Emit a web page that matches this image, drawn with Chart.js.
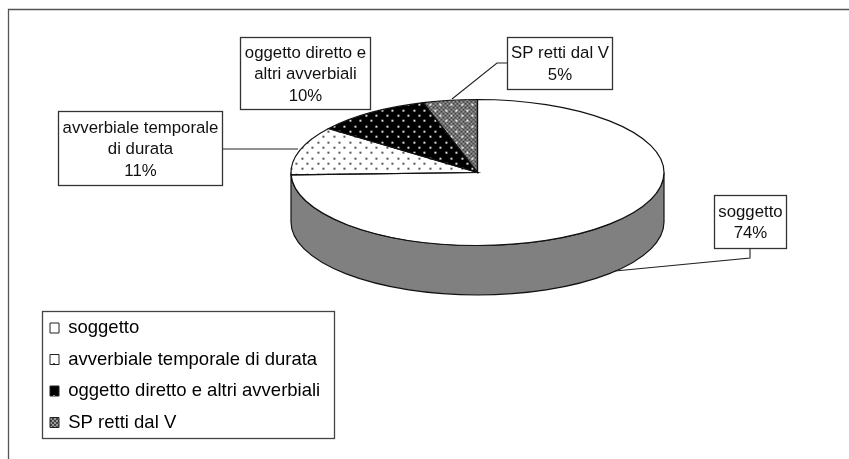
<!DOCTYPE html>
<html>
<head>
<meta charset="utf-8">
<style>
  html, body { margin: 0; padding: 0; background: #fff; }
  canvas { display: block; }
</style>
<script src="https://cdn.jsdelivr.net/npm/chart.js@4"></script>
</head>
<body>
<canvas id="pieChart" width="849" height="459"></canvas>
<script>
const categories = ['soggetto', 'avverbiale temporale di durata', 'oggetto diretto e altri avverbiali', 'SP retti dal V'];
const shares = [74.49, 10.8, 10, 4.71];
const calloutNames = [['soggetto'], ['avverbiale temporale', 'di durata'], ['oggetto diretto e', 'altri avverbiali'], ['SP retti dal V']];

// where the flattened pie sits
const pieX = 477.5, pieY = 172.5, pieRx = 186.5, pieRy = 73, pieDepth = 49.5;
const squash = pieRy / pieRx;
const fontName = '"Liberation Sans", Arial, sans-serif';

// label boxes, same order as categories
const calloutBoxes = [
    { x: 714.5, y: 195.5, w: 72, h: 53, leader: [[750, 248], [750, 258], [615, 271]] },
    { x: 58.5, y: 111.5, w: 164, h: 74, leader: [[222, 149], [298, 149]] },
    { x: 240.5, y: 37.5, w: 130, h: 72, leader: [] },
    { x: 507.5, y: 37.5, w: 105, h: 52, leader: [[507, 63], [497, 63], [452, 99]] }
];

function makeTile(base, dotColor, checker) {
    const tile = document.createElement('canvas');
    tile.width = 32;
    tile.height = 32;
    const c = tile.getContext('2d');
    c.fillStyle = base;
    c.fillRect(0, 0, 32, 32);
    if (checker) {
        c.fillStyle = checker;
        for (let y = 0; y < 32; y += 2) {
            for (let x = (y % 4 === 0 ? 0 : 2); x < 32; x += 4) {
                c.fillRect(x, y, 2, 2);
            }
        }
    }
    c.fillStyle = dotColor;
    for (let row = 0; row < 6; row++) {
        const y = Math.round(row * 16 / 3);
        for (let col = 0; col < 3; col++) {
            const x = Math.round((col + (row % 2) / 2) * 32 / 3);
            c.fillRect(x, y, 2, 2);
        }
    }
    return tile;
}

const ctx = document.getElementById('pieChart').getContext('2d');
const tiles = [null, makeTile('#fff', '#555'), makeTile('#000', '#ddd'), makeTile('#444', '#eee', '#999')];

function flatFill(tile) {
    // the arcs get painted under a squashed transform, undo it for the pattern
    if (!tile) return '#fff';
    const p = ctx.createPattern(tile, 'repeat');
    p.setTransform(new DOMMatrix().scale(1, 1 / squash));
    return p;
}
function legendFill(tile) {
    return tile ? ctx.createPattern(tile, 'repeat') : '#fff';
}

const pie3d = {
    id: 'pie3d',
    afterLayout(chart) {
        const legend = chart.legend;
        const w = legend.width, h = legend.height;
        legend.left = 37;
        legend.top = 305.75;
        legend.right = legend.left + w;
        legend.bottom = legend.top + h;
    },
    beforeDatasetsDraw(chart) {
        const c = chart.ctx;
        const arc = chart.getDatasetMeta(0).data[0];
        // side wall
        c.save();
        c.beginPath();
        c.ellipse(pieX, pieY, pieRx, pieRy, 0, 0, Math.PI);
        c.lineTo(pieX - pieRx, pieY + pieDepth);
        c.ellipse(pieX, pieY + pieDepth, pieRx, pieRy, 0, Math.PI, 0, true);
        c.closePath();
        c.fillStyle = '#808080';
        c.fill();
        c.strokeStyle = '#111';
        c.lineWidth = 1.2;
        c.stroke();
        c.restore();
        c.save();
        c.translate(pieX - arc.x, pieY - arc.y * squash);
        c.scale(1, squash);
    },
    afterDatasetsDraw(chart) {
        const c = chart.ctx;
        c.restore();
        c.strokeStyle = '#111';
        c.lineWidth = 1.2;
        chart.getDatasetMeta(0).data.forEach(arc => {
            c.beginPath();
            c.moveTo(pieX, pieY);
            c.ellipse(pieX, pieY, pieRx, pieRy, 0, arc.startAngle, arc.endAngle);
            c.closePath();
            c.stroke();
        });
    },
    afterDraw(chart) {
        const c = chart.ctx;
        c.save();
        // outer frame only shows on top and left
        c.strokeStyle = '#555';
        c.lineWidth = 1.3;
        c.beginPath();
        c.moveTo(8.5, 459);
        c.lineTo(8.5, 9.5);
        c.lineTo(849, 9.5);
        c.stroke();
        // legend frame
        c.strokeStyle = '#444';
        c.strokeRect(42.5, 311.5, 292, 127);
        // callouts
        c.font = '16.8px ' + fontName;
        c.textAlign = 'center';
        c.textBaseline = 'middle';
        calloutBoxes.forEach((box, i) => {
            c.strokeStyle = '#222';
            c.lineWidth = 1.1;
            if (box.leader.length) {
                c.beginPath();
                box.leader.forEach((pt, n) => n ? c.lineTo(pt[0], pt[1]) : c.moveTo(pt[0], pt[1]));
                c.stroke();
            }
            c.fillStyle = '#fff';
            c.fillRect(box.x, box.y, box.w, box.h);
            c.strokeStyle = '#333';
            c.lineWidth = 1.3;
            c.strokeRect(box.x, box.y, box.w, box.h);
            const lines = calloutNames[i].concat(Math.round(shares[i]) + '%');
            const top = box.y + box.h / 2 - (lines.length - 1) * 21.5 / 2;
            c.fillStyle = '#111';
            lines.forEach((line, n) => c.fillText(line, box.x + box.w / 2, top + n * 21.5 + 1));
        });
        c.restore();
    }
};

new Chart(ctx, {
    type: 'pie',
    data: {
        labels: categories,
        datasets: [{
            data: shares,
            backgroundColor: tiles.map(flatFill),
            borderWidth: 0,
            clip: false
        }]
    },
    options: {
        responsive: false,
        animation: false,
        radius: pieRx,
        plugins: {
            tooltip: { enabled: false },
            legend: {
                position: 'left',
                align: 'start',
                labels: {
                    boxWidth: 9,
                    boxHeight: 10,
                    padding: 13,
                    color: '#111',
                    font: { family: fontName, size: 18.5 },
                    generateLabels() {
                        return categories.map((name, i) => ({
                            text: name,
                            fillStyle: legendFill(tiles[i]),
                            strokeStyle: '#222',
                            lineWidth: 1,
                            datasetIndex: 0,
                            index: i
                        }));
                    }
                }
            }
        }
    },
    plugins: [pie3d]
});
</script>
</body>
</html>
